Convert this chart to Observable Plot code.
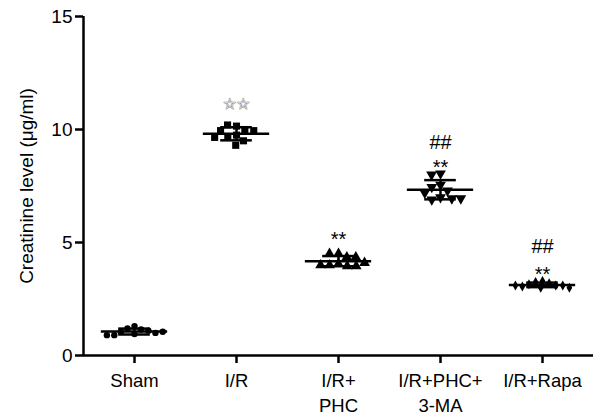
<!DOCTYPE html>
<html>
<head>
<meta charset="utf-8">
<script src="https://cdn.jsdelivr.net/npm/d3@7"></script>
<script src="https://cdn.jsdelivr.net/npm/@observablehq/plot@0.6"></script>
<style>
html,body{margin:0;padding:0;background:#fff;}
</style>
</head>
<body>
<div id="chart"></div>
<script>
const groups = ["Sham", "I/R", "I/R+PHC", "I/R+PHC+3-MA", "I/R+Rapa"];
const tickLabels = ["Sham", "I/R", "I/R+\nPHC", "I/R+PHC+\n3-MA", "I/R+Rapa"];
const yTicks = [0, 5, 10, 15];
const shamValues = [1.3, 1.2, 1.15, 1.1, 1.05, 1.0, 0.95, 0.9, 0.9, 1.05];
const irValues = [10.15, 10.2, 10.0, 9.95, 9.95, 9.75, 9.65, 9.65, 9.5, 9.3];
const phcValues = [4.5, 4.5, 4.35, 4.35, 4.05, 4.0, 3.95, 3.95, 4.0, 4.1];
const maValues = [8.05, 8.0, 7.55, 7.45, 7.3, 7.2, 7.0, 6.95, 6.9, 6.95];
const rapaValues = [3.3, 3.25, 3.2, 3.15, 3.1, 3.1, 3.05, 3.0, 3.0, 3.1];
const annoGroups = ["I/R", "I/R+PHC", "I/R+PHC+3-MA", "I/R+PHC+3-MA", "I/R+Rapa", "I/R+Rapa"];
const annoTexts = ["☆☆", "**", "##", "**", "##", "**"];
const annoLevels = [11.1, 5.35, 9.42, 8.54, 4.82, 3.8];

const series = [shamValues, irValues, phcValues, maValues, rapaValues];
const data = groups.flatMap((g, i) => series[i].map(v => ({group: g, value: v})));
const stats = groups.map((g, i) => ({group: g, mean: d3.mean(series[i]), sd: d3.deviation(series[i])}));
const annos = annoGroups.map((g, i) => ({group: g, text: annoTexts[i], level: annoLevels[i]}));

const triangleDown = {
  draw(context, size) {
    const y = -Math.sqrt(size / (Math.sqrt(3) * 3));
    context.moveTo(0, -y * 2);
    context.lineTo(-Math.sqrt(3) * y, y);
    context.lineTo(Math.sqrt(3) * y, y);
    context.closePath();
  }
};
const symbolRadius = {"Sham": 3.2, "I/R": 4, "I/R+PHC": 4, "I/R+PHC+3-MA": 4, "I/R+Rapa": 3};

const font = "'Liberation Sans', Arial, Helvetica, sans-serif";
const sw = 2.5;

const chart = Plot.plot({
  width: 593,
  height: 418,
  marginLeft: 83,
  marginRight: 0,
  marginTop: 16,
  marginBottom: 63,
  style: {fontFamily: font, fontSize: "19px", background: "#fff", color: "#000"},
  fx: {domain: groups, padding: 0, axis: null},
  x: {domain: [-1, 1], axis: null},
  y: {domain: [0, 15], axis: null},
  r: {type: "identity"},
  symbol: {domain: groups, range: [d3.symbolCircle, d3.symbolSquare, d3.symbolTriangle, triangleDown, d3.symbolDiamond]},
  marks: [
    Plot.axisY({ticks: yTicks, tickSize: 8, tickPadding: 3, fontSize: 19, strokeWidth: sw,
      label: "Creatinine level (μg/ml)", labelAnchor: "center", labelArrow: "none", labelOffset: 64}),
    Plot.axisFx({anchor: "bottom", tickSize: 8, tickPadding: 6, fontSize: 18.5, lineHeight: 1.33,
      strokeWidth: sw, label: null, tickFormat: d => tickLabels[groups.indexOf(d)]}),
    Plot.dot(data, Plot.dodgeX("middle", {fx: "group", y: "value", r: d => symbolRadius[d.group], symbol: "group", fill: "#000", stroke: "none", padding: 0})),
    Plot.ruleY(stats, {fx: "group", y: "mean", x1: -0.65, x2: 0.65, strokeWidth: sw}),
    Plot.ruleY(stats, {fx: "group", y: d => d.mean + d.sd, x1: -0.31, x2: 0.31, strokeWidth: sw}),
    Plot.ruleY(stats, {fx: "group", y: d => d.mean - d.sd, x1: -0.31, x2: 0.31, strokeWidth: sw}),
    Plot.ruleX(stats, {fx: "group", x: 0, y1: d => d.mean - d.sd, y2: d => d.mean + d.sd, strokeWidth: sw}),
    Plot.text(annos.filter(d => d.text === "☆☆"), {fx: "group", x: 0, y: "level", text: "text", fontSize: 15, fill: "#fff", stroke: "#888", strokeWidth: 1, fontFamily: "DejaVu Sans"}),
    Plot.text(annos.filter(d => d.text === "**"), {fx: "group", x: 0, y: "level", text: "text", fontSize: 20, dy: 5, fill: "#000"}),
    Plot.text(annos.filter(d => d.text === "##"), {fx: "group", x: 0, y: "level", text: "text", fontSize: 20, fill: "#000"}),
    Plot.ruleY([0], {strokeWidth: sw}),
    Plot.ruleX([{g: "Sham"}], {fx: "g", x: -1, y1: 0, y2: 15, strokeWidth: sw})
  ]
});
document.getElementById("chart").appendChild(chart);
</script>
</body>
</html>
